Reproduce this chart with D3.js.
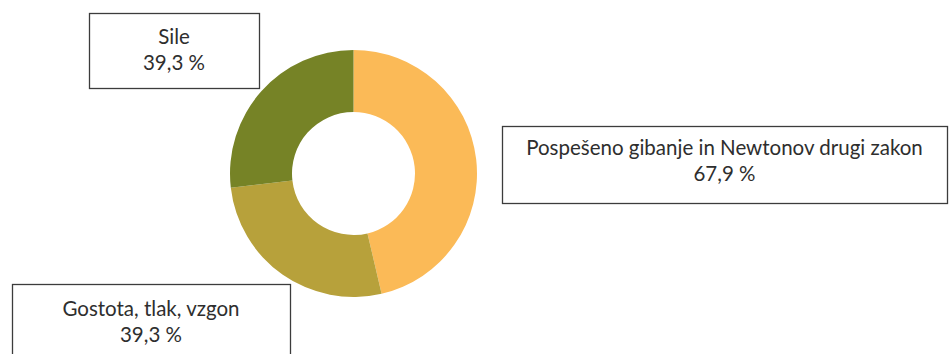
<!DOCTYPE html>
<html>
<head>
<meta charset="utf-8">
<script src="https://cdn.jsdelivr.net/npm/d3@7"></script>
<style>
  html, body { margin: 0; padding: 0; background: #ffffff; }
  svg { display: block; }
  text { font-family: Lato, "Open Sans", sans-serif; fill: #2e2e2e; }
</style>
</head>
<body>
<svg id="chart" width="951" height="354"></svg>
<script>
// Topic shares (percent of respondents)
const categories = ["Pospešeno gibanje in Newtonov drugi zakon", "Gostota, tlak, vzgon", "Sile"];
const values = [67.9, 39.3, 39.3];
const colors = ["#FBBA57", "#B7A13B", "#768326"];

// Callout boxes for each slice: [x, y, width, height, first baseline offset]
const boxes = [
  [502, 126, 445, 77, 29],
  [12, 284, 278, 80, 32],
  [89, 13, 170, 75, 31]
];
const lineGap = 25.5;

const svg = d3.select("#chart");
const cx = 353.5, cy = 173.5;
const outerR = 123.5, innerR = 61.5;

const locale = d3.formatLocale({ decimal: ",", thousands: ".", grouping: [3], currency: ["", " €"] });
const fmt = locale.format(".1f");

const data = categories.map((c, i) => ({ name: c, value: values[i], color: colors[i], box: boxes[i] }));

const pie = d3.pie().value(d => d.value).sort(null);
const arc = d3.arc().innerRadius(innerR).outerRadius(outerR);

svg.append("g")
  .attr("transform", `translate(${cx},${cy})`)
  .selectAll("path")
  .data(pie(data))
  .join("path")
  .attr("d", arc)
  .attr("fill", d => d.data.color);

// Fit label font so the longest category spans 397px
const probe = svg.append("text").attr("font-size", 20).text(categories[0]);
const probeW = probe.node().getComputedTextLength();
probe.remove();
const fontSize = 20 * 397 / probeW;

const labels = svg.append("g").selectAll("g")
  .data(data)
  .join("g");

labels.append("rect")
  .attr("x", d => d.box[0] + 0.5)
  .attr("y", d => d.box[1] + 0.5)
  .attr("width", d => d.box[2])
  .attr("height", d => d.box[3])
  .attr("fill", "#ffffff")
  .attr("stroke", "#3c3c3c")
  .attr("stroke-width", 1.3);

labels.append("text")
  .attr("text-anchor", "middle")
  .attr("font-size", fontSize)
  .attr("x", d => d.box[0] + d.box[2] / 2)
  .attr("y", d => d.box[1] + d.box[4])
  .text(d => d.name);

labels.append("text")
  .attr("text-anchor", "middle")
  .attr("font-size", fontSize)
  .attr("x", d => d.box[0] + d.box[2] / 2)
  .attr("y", d => d.box[1] + d.box[4] + lineGap)
  .text(d => fmt(d.value) + " %");
</script>
</body>
</html>
